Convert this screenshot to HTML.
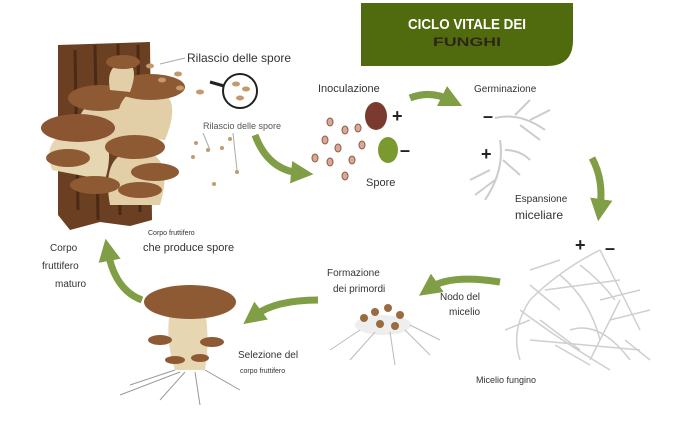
<!DOCTYPE html>
<html><head><meta charset="utf-8"><style>
body{margin:0;background:#fff;width:673px;height:440px;overflow:hidden;font-family:"Liberation Sans",sans-serif}
svg{display:block}
</style></head><body>
<svg width="673" height="440" viewBox="0 0 673 440" xmlns="http://www.w3.org/2000/svg" font-family="Liberation Sans, sans-serif">
<defs>
<marker id="ah" viewBox="0 0 10 10" refX="4" refY="5" markerWidth="3.2" markerHeight="3.6" orient="auto"><path d="M0,0L10,5L0,10z" fill="#7f9e45"/></marker>
</defs>
<!-- title banner -->
<path d="M361,3H573V40Q573,66 547,66H361Z" fill="#4f6b0e"/>
<text x="467" y="29" text-anchor="middle" font-size="15" font-weight="bold" fill="#fff" textLength="118" lengthAdjust="spacingAndGlyphs">CICLO VITALE DEI</text>
<text x="467" y="46" text-anchor="middle" font-size="12" font-weight="bold" fill="#2e2418" textLength="68" lengthAdjust="spacingAndGlyphs">FUNGHI</text>

<!-- log -->
<path d="M58,45L150,42L152,220L130,226L100,222L70,230L58,215Z" fill="#6b3f22"/>
<path d="M75,50L78,210M95,45L98,220M118,44L120,215M138,45L140,212" stroke="#4a2a15" stroke-width="3"/>
<!-- mushrooms on log -->
<g>
<path d="M78,150Q70,100 110,98Q150,100 130,150Z" fill="#e2cfa8"/>
<ellipse cx="100" cy="98" rx="32" ry="13" fill="#8e5a34"/>
<path d="M120,135Q110,90 150,88Q185,92 165,140Z" fill="#e2cfa8"/>
<ellipse cx="150" cy="87" rx="35" ry="13" fill="#8e5a34"/>
<path d="M52,170Q40,135 80,128Q120,130 105,180Z" fill="#e7d6b2"/>
<ellipse cx="78" cy="128" rx="37" ry="14" fill="#8a5530"/>
<path d="M110,205Q100,150 140,150Q175,155 160,205Z" fill="#e2cfa8"/>
<ellipse cx="135" cy="147" rx="30" ry="12" fill="#8e5a34"/>
<ellipse cx="68" cy="158" rx="22" ry="9" fill="#8e5a34"/>
<ellipse cx="155" cy="172" rx="24" ry="9" fill="#8e5a34"/>
<ellipse cx="95" cy="185" rx="25" ry="9" fill="#8e5a34"/>
<ellipse cx="140" cy="190" rx="22" ry="8" fill="#8e5a34"/>
<path d="M110,90Q105,65 125,62Q140,65 130,92Z" fill="#e2cfa8"/>
<ellipse cx="123" cy="62" rx="17" ry="7" fill="#8e5a34"/>
</g>
<!-- spores near log -->
<g fill="#c49a6c">
<ellipse cx="150" cy="66" rx="4" ry="2.5"/><ellipse cx="178" cy="74" rx="4" ry="2.5"/><ellipse cx="162" cy="80" rx="4" ry="2.5"/><ellipse cx="180" cy="88" rx="4" ry="2.5"/><ellipse cx="200" cy="92" rx="4" ry="2.5"/>
<circle cx="196" cy="143" r="2"/><circle cx="208" cy="150" r="2"/><circle cx="222" cy="148" r="2"/><circle cx="193" cy="157" r="2"/><circle cx="237" cy="172" r="2"/><circle cx="214" cy="184" r="2"/><circle cx="230" cy="139" r="2"/>
</g>
<line x1="160" y1="64" x2="185" y2="58" stroke="#aaa"/>
<line x1="203" y1="133" x2="210" y2="150" stroke="#aaa"/><line x1="233" y1="133" x2="237" y2="170" stroke="#aaa"/>
<circle cx="240" cy="91" r="17" fill="#fff" stroke="#222" stroke-width="2"/>
<line x1="210" y1="82" x2="224" y2="86" stroke="#222" stroke-width="3"/>
<ellipse cx="236" cy="84" rx="4" ry="2.5" fill="#c49a6c"/><ellipse cx="246" cy="89" rx="4" ry="2.5" fill="#c49a6c"/><ellipse cx="240" cy="98" rx="4" ry="2.5" fill="#c49a6c"/>
<text x="187" y="62" font-size="12" fill="#333">Rilascio delle spore</text>
<text x="203" y="129" font-size="9" fill="#555">Rilascio delle spore</text>

<!-- green arrows -->
<g fill="none" stroke="#7f9e45" stroke-width="7" marker-end="url(#ah)">
<path d="M255,135Q268,170 300,173"/>
<path d="M410,98Q430,90 450,100"/>
<path d="M592,158Q604,180 600,208"/>
<path d="M500,282Q450,274 430,288"/>
<path d="M318,300Q275,300 254,316"/>
<path d="M142,300Q115,290 108,252"/>
</g>

<!-- spores cluster -->
<g fill="#d7a99a" stroke="#8e5a40" stroke-width="1">
<ellipse cx="330" cy="122" rx="3" ry="4"/><ellipse cx="345" cy="130" rx="3" ry="4"/><ellipse cx="325" cy="140" rx="3" ry="4"/><ellipse cx="358" cy="128" rx="3" ry="4"/><ellipse cx="338" cy="148" rx="3" ry="4"/><ellipse cx="315" cy="158" rx="3" ry="4"/><ellipse cx="330" cy="162" rx="3" ry="4"/><ellipse cx="352" cy="160" rx="3" ry="4"/><ellipse cx="345" cy="176" rx="3" ry="4"/><ellipse cx="362" cy="145" rx="3" ry="4"/>
</g>
<ellipse cx="376" cy="116" rx="11" ry="14" fill="#7a3a30"/>
<ellipse cx="388" cy="150" rx="10" ry="13" fill="#7a9a30"/>
<text x="392" y="122" font-size="18" font-weight="bold" fill="#222">+</text>
<text x="400" y="156" font-size="18" font-weight="bold" fill="#222">–</text>
<text x="318" y="92" font-size="11" fill="#333">Inoculazione</text>
<text x="366" y="186" font-size="11" fill="#333">Spore</text>

<!-- germination hyphae -->
<g fill="none" stroke="#ccc" stroke-width="2">
<path d="M495,118Q520,112 545,130M515,115L530,100M530,120L550,110M500,140Q505,170 485,200M503,160L520,175M495,180L475,195M505,150Q520,150 530,160M520,125L540,140M490,170L470,180"/>
</g>
<text x="474" y="92" font-size="10" fill="#333">Germinazione</text>
<text x="483" y="122" font-size="18" font-weight="bold" fill="#222">–</text>
<text x="481" y="160" font-size="18" font-weight="bold" fill="#222">+</text>
<text x="515" y="202" font-size="10" fill="#333">Espansione</text>
<text x="515" y="219" font-size="12" fill="#333">miceliare</text>

<!-- mycelium network -->
<g fill="none" stroke="#cfcfcf" stroke-width="1.5">
<path d="M600,250Q560,270 530,300Q510,330 520,360M600,250Q620,290 640,330M560,275Q590,300 600,340M540,320L580,350M620,300L590,360M545,290L620,280M530,340L640,350M560,260L530,270M610,320L650,310M570,330Q600,320 630,360M520,310Q560,340 610,370M580,265Q600,280 615,300M530,285L560,310M600,300L640,290M555,345L590,365M625,340L650,360M505,330L530,320"/>
</g>
<text x="575" y="251" font-size="18" font-weight="bold" fill="#222">+</text>
<text x="605" y="254" font-size="18" font-weight="bold" fill="#222">–</text>
<text x="476" y="383" font-size="9" fill="#333">Micelio fungino</text>
<text x="440" y="300" font-size="10" fill="#333">Nodo del</text>
<text x="449" y="315" font-size="10" fill="#333">micelio</text>

<!-- primordia -->
<ellipse cx="383" cy="325" rx="28" ry="10" fill="#eee"/>
<g fill="#9a6a40"><circle cx="364" cy="318" r="4"/><circle cx="375" cy="312" r="4"/><circle cx="388" cy="308" r="4"/><circle cx="400" cy="315" r="4"/><circle cx="380" cy="324" r="4"/><circle cx="395" cy="326" r="4"/></g>
<g fill="none" stroke="#bbb"><path d="M360,330L330,350M375,332L350,360M390,332L395,365M405,330L430,355M410,325L440,340"/></g>
<text x="327" y="276" font-size="10" fill="#333">Formazione</text>
<text x="333" y="292" font-size="10" fill="#333">dei primordi</text>

<!-- mature mushroom -->
<path d="M170,310Q165,340 175,370H205Q210,340 205,310Z" fill="#e7d6b2"/>
<ellipse cx="190" cy="302" rx="46" ry="17" fill="#8e5a34"/>
<ellipse cx="160" cy="340" rx="12" ry="5" fill="#8e5a34"/>
<ellipse cx="212" cy="342" rx="12" ry="5" fill="#8e5a34"/>
<ellipse cx="175" cy="360" rx="10" ry="4" fill="#8e5a34"/>
<ellipse cx="200" cy="358" rx="9" ry="4" fill="#8e5a34"/>
<g fill="none" stroke="#999"><path d="M175,370L130,385M185,372L160,400M195,372L200,405M205,370L240,390M180,372L120,395"/></g>
<text x="238" y="358" font-size="10" fill="#333">Selezione del</text>
<text x="240" y="373" font-size="7" fill="#333">corpo fruttifero</text>

<text x="148" y="235" font-size="7" fill="#333">Corpo fruttifero</text>
<text x="143" y="251" font-size="11" fill="#333">che produce spore</text>
<text x="50" y="251" font-size="10" fill="#333">Corpo</text>
<text x="42" y="269" font-size="10" fill="#333">fruttifero</text>
<text x="55" y="287" font-size="10" fill="#333">maturo</text>
</svg>
</body></html>
